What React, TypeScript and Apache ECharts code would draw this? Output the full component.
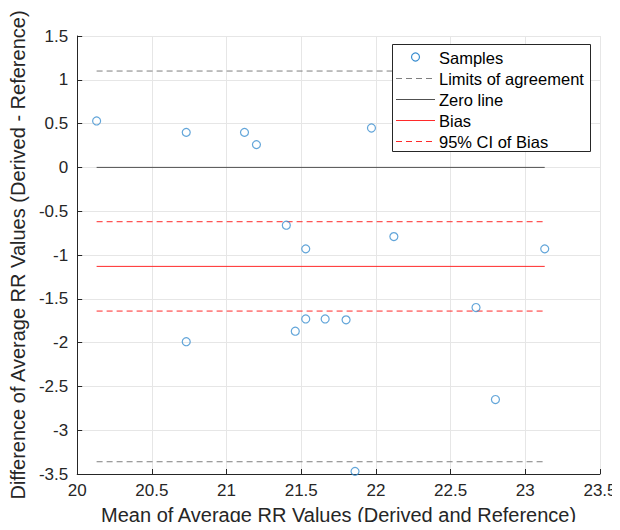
import React, { useEffect, useRef } from "react";
import * as echarts from "echarts";

const meanValues = [20.13, 20.73, 20.73, 21.12, 21.2, 21.4, 21.53, 21.46, 21.53, 21.66, 21.8, 21.86, 21.97, 22.12, 22.67, 22.8, 23.13];
const diffValues = [0.53, 0.4, -1.99, 0.4, 0.26, -0.66, -0.93, -1.87, -1.73, -1.73, -1.74, -3.47, 0.45, -0.79, -1.6, -2.65, -0.93];
const bias = -1.13;
const loaUpper = 1.1;
const loaLower = -3.36;
const ciUpper = -0.62;
const ciLower = -1.64;
const xTicks = { min: 20, max: 23.5, interval: 0.5 };
const yTicks = { min: -3.5, max: 1.5, interval: 0.5 };
const legendLabels = ["Samples", "Limits of agreement", "Zero line", "Bias", "95% CI of Bias"];

const FONT = "Liberation Sans, Arial, Helvetica, sans-serif";
const AX = "#262626";
const C_SAMPLE = "#3b8ed0";
const C_LOA = "#7f7f7f";
const C_ZERO = "#505050";
const C_RED = "#ff2a2a";

export default function App() {
  const ref = useRef<HTMLDivElement>(null);
  useEffect(() => {
    if (!ref.current) return;
    const chart = echarts.init(ref.current, undefined, { renderer: "svg" });
    const xMin = Math.min(...meanValues);
    const xMax = Math.max(...meanValues);
    const hline = (v: number) => [[xMin, v], [xMax, v]];
    const lineSeries = (id: string, name: string, v: number, color: string, dashed: boolean) => ({
      id,
      name,
      type: "line",
      color,
      data: hline(v),
      symbol: "none",
      silent: true,
      z: 2,
      lineStyle: { color, width: 1, type: dashed ? [6, 4] : "solid" },
      itemStyle: { color },
    });

    const lx = 392.5, ly = 44.5, lw = 198, lh = 107;
    const rowY = [57, 78, 99, 120, 141];
    const lineX1 = 396, lineX2 = 435, textX = 439;
    const legendStyles = [
      null,
      { stroke: C_LOA, dash: true },
      { stroke: C_ZERO, dash: false },
      { stroke: C_RED, dash: false },
      { stroke: C_RED, dash: true },
    ];
    const graphics: any[] = [
      {
        type: "rect",
        z: 100,
        shape: { x: lx, y: ly, width: lw, height: lh },
        style: { fill: "#fff", stroke: AX, lineWidth: 1 },
      },
    ];
    legendLabels.forEach((lab, i) => {
      const st = legendStyles[i];
      if (st) {
        graphics.push({
          type: "line",
          z: 101,
          shape: { x1: lineX1, y1: rowY[i] + 0.5, x2: lineX2, y2: rowY[i] + 0.5 },
          style: st.dash
            ? { stroke: st.stroke, lineWidth: 1, lineDash: [6, 4], fill: null }
            : { stroke: st.stroke, lineWidth: 1, fill: null },
        });
      } else {
        graphics.push({
          type: "circle",
          z: 101,
          shape: { cx: 415.5, cy: rowY[i], r: 4 },
          style: { fill: "none", stroke: C_SAMPLE, lineWidth: 1.2 },
        });
      }
      graphics.push({
        type: "text",
        z: 101,
        x: textX,
        y: rowY[i] + 1,
        style: { text: lab, fontFamily: FONT, fontSize: 16.5, fill: "#000", verticalAlign: "middle", align: "left" },
      });
    });

    chart.setOption({
      animation: false,
      textStyle: { fontFamily: FONT },
      grid: { left: 74, right: 20, top: 36, bottom: 52 },
      xAxis: {
        type: "value",
        ...xTicks,
        name: "Mean of Average RR Values (Derived and Reference)",
        nameLocation: "middle",
        nameGap: 31,
        nameTextStyle: { fontFamily: FONT, fontSize: 20, color: AX },
        axisLine: { show: true, onZero: false, lineStyle: { color: AX, width: 1 } },
        axisTick: { show: true, inside: true, length: 5, lineStyle: { color: AX } },
        axisLabel: { fontFamily: FONT, fontSize: 17, color: AX, margin: 8 },
        splitLine: { show: true, lineStyle: { color: "#e6e6e6", width: 1 } },
      },
      yAxis: {
        type: "value",
        ...yTicks,
        name: "Difference of Average RR Values (Derived - Reference)",
        nameLocation: "middle",
        nameGap: 42,
        nameTextStyle: { fontFamily: FONT, fontSize: 20, color: AX },
        axisLine: { show: true, onZero: false, lineStyle: { color: AX, width: 1 } },
        axisTick: { show: true, inside: true, length: 5, lineStyle: { color: AX } },
        axisLabel: { fontFamily: FONT, fontSize: 17, color: AX, margin: 9 },
        splitLine: { show: true, lineStyle: { color: "#e6e6e6", width: 1 } },
      },
      graphic: graphics,
      series: [
        lineSeries("loaU", "Limits of agreement", loaUpper, C_LOA, true),
        lineSeries("loaL", "Limits of agreement", loaLower, C_LOA, true),
        lineSeries("zero", "Zero line", 0, C_ZERO, false),
        lineSeries("bias", "Bias", bias, C_RED, false),
        lineSeries("ciU", "95% CI of Bias", ciUpper, C_RED, true),
        lineSeries("ciL", "95% CI of Bias", ciLower, C_RED, true),
        {
          id: "samples",
          name: "Samples",
          type: "scatter",
          data: meanValues.map((m, i) => [m, diffValues[i]]),
          symbol: "circle",
          symbolSize: 8,
          z: 5,
          itemStyle: { color: "rgba(255,255,255,0)", borderColor: C_SAMPLE, borderWidth: 1.2 },
        },
      ],
    });
    return () => chart.dispose();
  }, []);
  return <div ref={ref} style={{ width: 620, height: 530, margin: -8 }} />;
}
